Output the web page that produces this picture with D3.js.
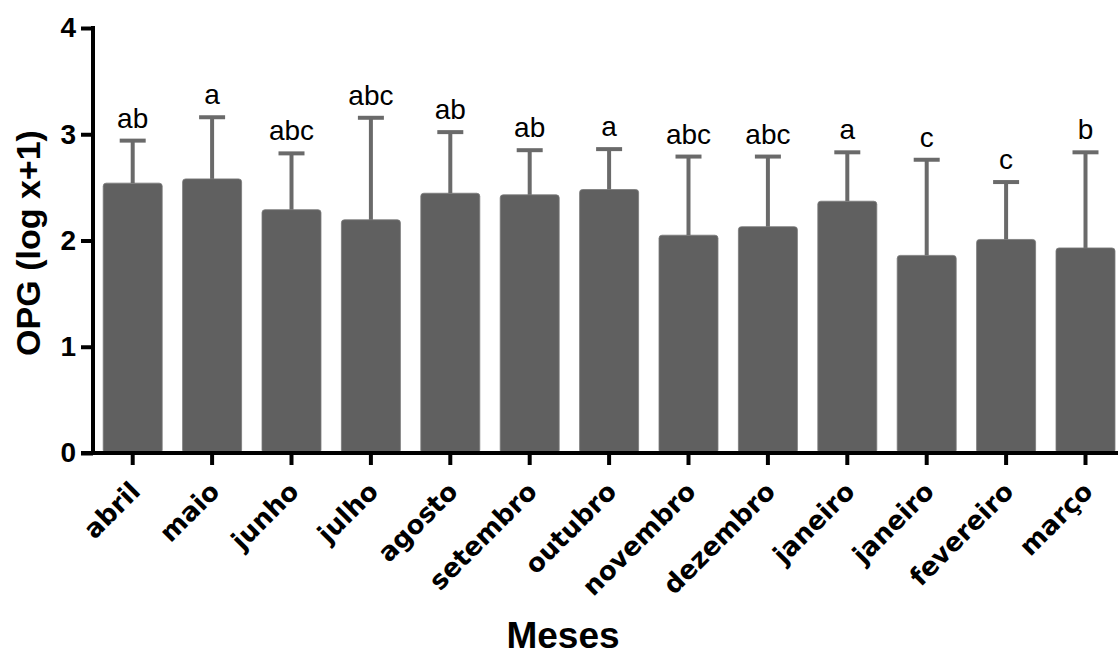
<!DOCTYPE html>
<html>
<head>
<meta charset="utf-8">
<script src="https://cdn.jsdelivr.net/npm/d3@7"></script>
<style>
  html, body { margin: 0; padding: 0; background: #ffffff; }
  svg { display: block; }
</style>
</head>
<body>
<svg id="chart" width="1119" height="655"></svg>
<script>
// ---- data ----
const categories = ["abril", "maio", "junho", "julho", "agosto", "setembro", "outubro",
                    "novembro", "dezembro", "janeiro", "janeiro", "fevereiro", "março"];
const means   = [2.54, 2.58, 2.29, 2.195, 2.445, 2.43, 2.48, 2.05, 2.13, 2.37, 1.86, 2.01, 1.93];
const errTops = [2.94, 3.16, 2.82, 3.155, 3.02, 2.85, 2.86, 2.79, 2.79, 2.83, 2.76, 2.55, 2.83];
const letters = ["ab", "a", "abc", "abc", "ab", "ab", "a", "abc", "abc", "a", "c", "c", "b"];
const yTicks  = [0, 1, 2, 3, 4];
const yTitle  = "OPG (log x+1)";
const xTitle  = "Meses";

// ---- layout ----
const svg = d3.select("#chart");
const axisX = 93, axisY = 453;
const step = 79.4;

const x = d3.scaleBand()
  .domain(d3.range(categories.length))
  .range([axisX, axisX + step * categories.length])
  .paddingInner(0.257)
  .paddingOuter(0.1285);

const y = d3.scaleLinear().domain([0, 4]).range([axisY, 28]);

const barColor = "#606060";
const errColor = "#6a6a6a";

// bars
svg.append("g").selectAll("rect")
  .data(means)
  .join("rect")
  .attr("x", (d, i) => x(i))
  .attr("y", d => y(d))
  .attr("width", x.bandwidth())
  .attr("height", d => y(0) - y(d))
  .attr("rx", 3)
  .attr("fill", barColor)
  .attr("stroke", "#7a7a7a")
  .attr("stroke-width", 0.8);

// error bars
const eg = svg.append("g").attr("stroke", errColor).attr("stroke-width", 4);
eg.selectAll("line.stem")
  .data(errTops)
  .join("line")
  .attr("class", "stem")
  .attr("x1", (d, i) => x(i) + x.bandwidth() / 2)
  .attr("x2", (d, i) => x(i) + x.bandwidth() / 2)
  .attr("y1", (d, i) => y(means[i]))
  .attr("y2", d => y(d));
eg.selectAll("line.cap")
  .data(errTops)
  .join("line")
  .attr("class", "cap")
  .attr("x1", (d, i) => x(i) + x.bandwidth() / 2 - 13)
  .attr("x2", (d, i) => x(i) + x.bandwidth() / 2 + 13)
  .attr("y1", d => y(d))
  .attr("y2", d => y(d));

// significance letters
svg.append("g").selectAll("text")
  .data(letters)
  .join("text")
  .attr("x", (d, i) => x(i) + x.bandwidth() / 2)
  .attr("y", (d, i) => y(errTops[i]) - 13)
  .attr("text-anchor", "middle")
  .attr("font-family", "'Liberation Sans', Arial, sans-serif")
  .attr("font-size", 28)
  .attr("fill", "#000")
  .text(d => d);

// y axis
const yAxis = d3.axisLeft(y).tickValues(yTicks).tickFormat(d3.format("d")).tickSize(12).tickPadding(5);
const gy = svg.append("g").attr("transform", `translate(${axisX},0)`).call(yAxis);
gy.select(".domain").remove();
gy.selectAll(".tick line").attr("stroke", "#000").attr("stroke-width", 4);
gy.selectAll(".tick text")
  .attr("font-family", "'Liberation Sans', Arial, sans-serif")
  .attr("font-weight", "bold")
  .attr("font-size", 28)
  .attr("fill", "#000");
svg.append("line")
  .attr("x1", axisX).attr("x2", axisX)
  .attr("y1", y(4) - 2).attr("y2", axisY + 2)
  .attr("stroke", "#000").attr("stroke-width", 4);

// x axis
const xAxis = d3.axisBottom(x).tickSize(12).tickFormat(i => categories[i]);
const gx = svg.append("g").attr("transform", `translate(0,${axisY})`).call(xAxis);
gx.select(".domain").remove();
gx.selectAll(".tick line").attr("stroke", "#000").attr("stroke-width", 4);
gx.selectAll(".tick text")
  .attr("font-family", "'DejaVu Sans', Verdana, sans-serif")
  .attr("font-weight", "bold")
  .attr("font-size", 26)
  .attr("fill", "#000")
  .attr("text-anchor", "end")
  .attr("dy", null)
  .attr("y", null)
  .attr("transform", "translate(9,40) rotate(-45)");
svg.append("line")
  .attr("x1", 81).attr("x2", 1118)
  .attr("y1", axisY).attr("y2", axisY)
  .attr("stroke", "#000").attr("stroke-width", 4);

// titles
svg.append("text")
  .attr("transform", `translate(40,243) rotate(-90)`)
  .attr("text-anchor", "middle")
  .attr("font-family", "'Liberation Sans', Arial, sans-serif")
  .attr("font-weight", "bold")
  .attr("font-size", 34)
  .attr("fill", "#000")
  .text(yTitle);

svg.append("text")
  .attr("x", 563).attr("y", 648)
  .attr("text-anchor", "middle")
  .attr("font-family", "'Liberation Sans', Arial, sans-serif")
  .attr("font-weight", "bold")
  .attr("font-size", 37)
  .attr("fill", "#000")
  .text(xTitle);
</script>
</body>
</html>
